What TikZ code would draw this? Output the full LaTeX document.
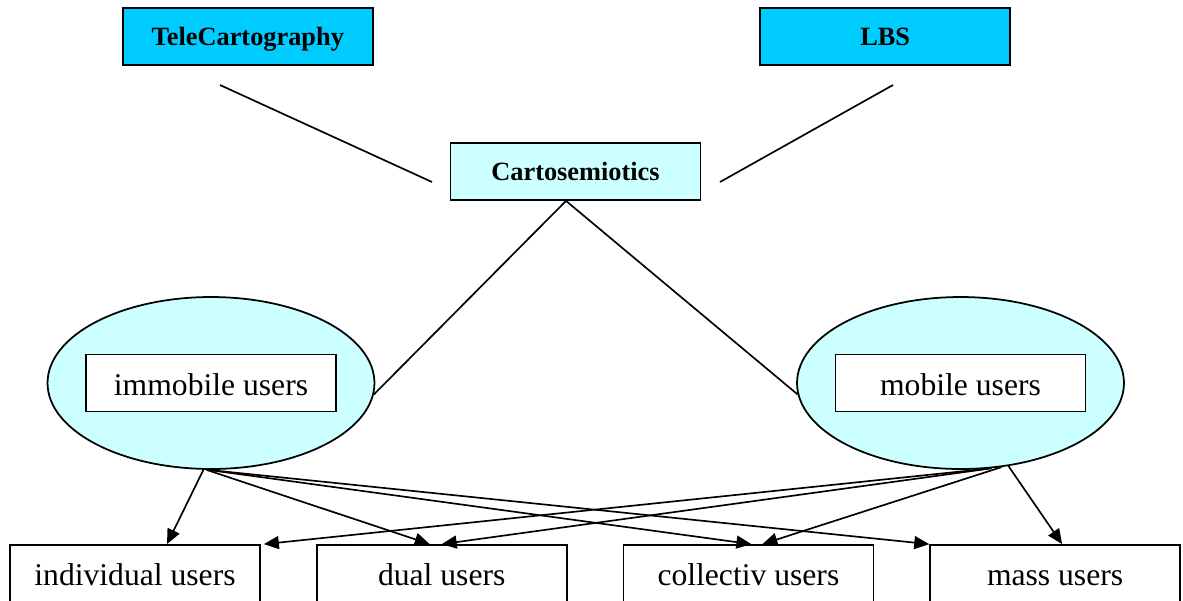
\documentclass[tikz,border=0pt]{standalone}
\usepackage{fontspec}
\setmainfont{Liberation Serif}
\usetikzlibrary{
	shapes,positioning,calc,arrows.meta
}
\tikzset{
	topbox/.style={
		rectangle, minimum width=5cm, minimum height=1.14cm,
		draw=black, line width=1pt, fill=telec,
		text height=11pt, text depth=1pt,
		font=\fontsize{15}{18}\selectfont\bfseries
	},
	%
	userbox/.style={
		rectangle, minimum width=5cm, minimum height=1.14cm,
		draw=black, line width=1pt, fill=white,
		text height=14.5pt, text depth=0.5pt,
		font=\fontsize{18}{22}\selectfont
	},
	%
	usergroup/.style={
		ellipse, minimum width=6.54cm, minimum height=3.44cm,
		draw=black, line width=1pt, fill=groupc
	},
	%
	link/.style={
		line width=0.95pt
	},
	%
	userlink/.style={
		line width=0.95pt, -{Triangle[length=0.3cm, width=0.26cm]}
	}
}
\definecolor{telec}{RGB}{0, 204, 255}
\definecolor{groupc}{RGB}{204, 255, 255}

\begin{document}
\begin{tikzpicture}[x=0.02cm, y=-0.02cm]
\useasboundingbox (0,0) rectangle (1183,600);

\node(cart)[topbox, fill=groupc] at (575.5,171.5) {Cartosemiotics};
\node(tele)[topbox, above left=1.52cm and 1.52cm of cart] {TeleCartography};
\node(lbs)[topbox, above right=1.52cm and 1.16cm of cart] {LBS};

\coordinate (telend) at (220,85);
\coordinate (cartleft) at (432,182);
\coordinate (lbsend) at (893,85);
\coordinate (cartright) at (720,182);
\draw[link] (telend) -- (cartleft);
\draw[link] (lbsend) -- (cartright);

\node(imm)[usergroup] at (211,383) {};
\node(immbox)[userbox] at (imm.center) {immobile users};
\node(mob)[usergroup] at (960.5,383) {};
\node(mobbox)[userbox] at (mob.center) {mobile users};

\draw[link] ([xshift=-0.19cm]cart.south) -- (imm.-4);
\draw[link] ([xshift=-0.19cm]cart.south) -- (mob.184);

\node(ind)[userbox] at (135,573.5) {individual users};
\node(dual)[userbox, right=1.1cm of ind] {dual users};
\node(coll)[userbox, right=1.1cm of dual] {collectiv users};
\node(mass)[userbox, right=1.1cm of coll] {mass users};

% immobile users
\draw[userlink] (imm.-95) -- ($(ind.north)+(32,0)$);
\draw[userlink] (imm.-93) -- ($(dual.north)+(-12,0)$);
\draw[userlink] (imm.-92) -- ($(coll.north)+(3,0)$);
\draw[userlink] (imm.-92) -- (mass.north west);
% mobile users
\draw[userlink] (mob.-72) -- ($(ind.north east)+(3,0)$);
\draw[userlink] (mob.-70) -- (dual.north);
\draw[userlink] (mob.-64) -- ($(coll.north)+(14,0)$);
\draw[userlink] (mob.-60) -- ($(mass.north)+(7,0)$);
\end{tikzpicture}
\end{document}
